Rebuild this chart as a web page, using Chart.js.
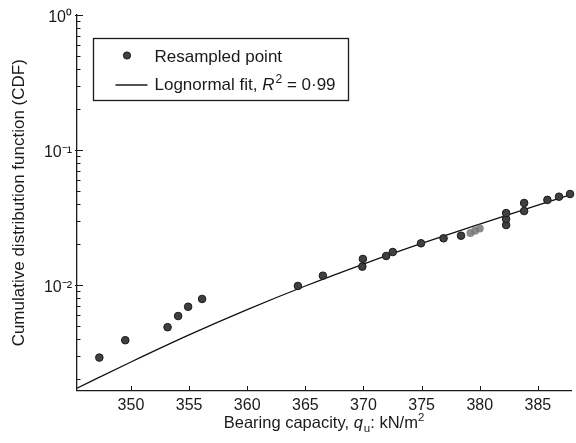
<!DOCTYPE html>
<html><head><meta charset="utf-8">
<script src="https://cdn.jsdelivr.net/npm/chart.js@4/dist/chart.umd.min.js"></script>
<style>html,body{margin:0;padding:0;background:#fff;}canvas{display:block;}</style>
</head><body>
<canvas id="c" width="576" height="443"></canvas>
<script>
// ---- data ----
const pointX = [347.28, 349.51, 353.15, 354.06, 354.92, 356.12, 364.36, 366.51, 369.90, 369.95,
                371.95, 372.52, 374.95, 376.89, 378.39, 382.27, 382.27, 382.27, 383.82, 383.82,
                385.82, 386.82, 387.77];
const pointY = [0.00290, 0.00390, 0.00487, 0.00589, 0.00690, 0.00788, 0.00984, 0.01172, 0.01368, 0.01560,
                0.01640, 0.01755, 0.02037, 0.02218, 0.02318, 0.0278, 0.0308, 0.0341, 0.0353, 0.0405,
                0.0427, 0.0451, 0.0472];
const markX = [379.2, 379.6, 380.0];
const markY = [0.0243, 0.0252, 0.0262];
const fitX = [345.36, 350, 355, 360, 365, 370, 375, 380, 385, 387.85];
const fitY = [0.00172, 0.00269, 0.00427, 0.00657, 0.00983, 0.01429, 0.0203, 0.0283, 0.0391, 0.0467];
const xTicks = [350, 355, 360, 365, 370, 375, 380, 385];
const yTicks = [0.002, 0.003, 0.004, 0.005, 0.006, 0.007, 0.008, 0.009,
                0.01, 0.02, 0.03, 0.04, 0.05, 0.06, 0.07, 0.08, 0.09,
                0.1, 0.2, 0.3, 0.4, 0.5, 0.6, 0.7, 0.8, 0.9, 1];
const yMajorValues = [0.01, 0.1, 1];
const yMajorLabels = ['10\u207B\u00B2', '10\u207B\u00B9', '10\u2070'];
const X_MIN = 345.36, X_MAX = 387.85, Y_MIN = 0.001654, Y_MAX = 1;
const legendLabels = ['Resampled point', 'Lognormal fit, '];
const xTitleParts = ['Bearing capacity, ', 'q', 'u', ': kN/m', '2'];
const yTitle = 'Cumulative distribution function (CDF)';

const FONT = '"Liberation Sans", Arial, Helvetica, sans-serif';
const INK = '#1a1a1a';

const isMajor = v => yMajorValues.some(m => Math.abs(m - v) / m < 1e-6);

const tickMarks = {
  id: 'tickMarks',
  afterDatasetsDraw(chart) {
    const {ctx, chartArea: a, scales: {x, y}} = chart;
    ctx.save();
    ctx.strokeStyle = INK; ctx.lineWidth = 1;
    y.ticks.forEach(t => {
      const py = Math.round(y.getPixelForValue(t.value)) + 0.5;
      ctx.beginPath(); ctx.moveTo(a.left - (isMajor(t.value) ? 2 : 0), py);
      ctx.lineTo(a.left + (isMajor(t.value) ? 6 : 3.5), py); ctx.stroke();
    });
    x.ticks.forEach(t => {
      const px = Math.round(x.getPixelForValue(t.value)) + 0.5;
      ctx.beginPath(); ctx.moveTo(px, a.bottom); ctx.lineTo(px, a.bottom - 4.5); ctx.stroke();
    });
    ctx.restore();
  }
};

const boxLegend = {
  id: 'boxLegend',
  afterDraw(chart) {
    const {ctx, chartArea: a} = chart;
    const x0 = a.left + 16.5, y0 = a.top + 23.5, w = 255, h = 62;
    ctx.save();
    ctx.fillStyle = '#fff';
    ctx.fillRect(x0, y0, w, h);
    ctx.strokeStyle = INK; ctx.lineWidth = 1.3;
    ctx.strokeRect(x0, y0, w, h);
    // marker
    ctx.beginPath(); ctx.arc(x0 + 33.5, y0 + 17, 3.6, 0, Math.PI * 2);
    ctx.fillStyle = '#404040'; ctx.fill(); ctx.lineWidth = 1; ctx.strokeStyle = '#1a1a1a'; ctx.stroke();
    // line sample
    ctx.beginPath(); ctx.moveTo(x0 + 22, y0 + 46.5); ctx.lineTo(x0 + 54, y0 + 46.5);
    ctx.lineWidth = 1.3; ctx.strokeStyle = INK; ctx.stroke();
    ctx.fillStyle = INK; ctx.textBaseline = 'alphabetic'; ctx.textAlign = 'left';
    ctx.font = '17px ' + FONT;
    ctx.fillText(legendLabels[0], x0 + 61, y0 + 23);
    let tx = x0 + 61; const by = y0 + 51.5;
    ctx.fillText(legendLabels[1], tx, by); tx += ctx.measureText(legendLabels[1]).width;
    ctx.font = 'italic 17px ' + FONT;
    ctx.fillText('R', tx, by); tx += ctx.measureText('R').width + 1;
    ctx.font = '12px ' + FONT;
    ctx.fillText('2', tx, by - 7); tx += ctx.measureText('2').width;
    ctx.font = '17px ' + FONT;
    ctx.fillText(' = 0\u00B799', tx, by);
    ctx.restore();
  }
};

const xTitle = {
  id: 'xTitle',
  afterDraw(chart) {
    const {ctx, chartArea: a} = chart;
    const by = 427.5;
    const fN = '16.5px ' + FONT, fI = 'italic 16.5px ' + FONT, fS = '11.5px ' + FONT;
    const specs = [[xTitleParts[0], fN, 0], [xTitleParts[1], fI, 0], [xTitleParts[2], fS, 4],
                   [xTitleParts[3], fN, 0], [xTitleParts[4], fS, -7]];
    ctx.save();
    let total = 0;
    specs.forEach(s => { ctx.font = s[1]; total += ctx.measureText(s[0]).width; });
    total += 1;
    let tx = (a.left + a.right) / 2 - total / 2;
    ctx.fillStyle = INK; ctx.textBaseline = 'alphabetic'; ctx.textAlign = 'left';
    specs.forEach((s, i) => {
      ctx.font = s[1]; ctx.fillText(s[0], tx, by + s[2]);
      tx += ctx.measureText(s[0]).width + (i === 1 ? 1 : 0);
    });
    ctx.restore();
  }
};

new Chart(document.getElementById('c'), {
  type: 'scatter',
  data: {
    datasets: [
      {
        label: legendLabels[0],
        data: pointX.map((v, i) => ({x: v, y: pointY[i]})),
        pointRadius: 3.8, pointBackgroundColor: '#404040', pointBorderColor: '#1a1a1a',
        pointBorderWidth: 1, showLine: false, clip: false
      },
      {
        label: 'mark',
        data: markX.map((v, i) => ({x: v, y: markY[i]})),
        pointRadius: 4, pointBackgroundColor: 'rgba(120,120,120,0.85)', pointBorderWidth: 0,
        showLine: false
      },
      {
        label: legendLabels[1] + 'R\u00B2 = 0\u00B799',
        data: fitX.map((v, i) => ({x: v, y: fitY[i]})),
        showLine: true, pointRadius: 0, borderColor: '#111', borderWidth: 1.3,
        cubicInterpolationMode: 'monotone', fill: false
      }
    ]
  },
  options: {
    responsive: false, animation: false, devicePixelRatio: 1,
    layout: {padding: {left: 0, right: 4, top: 15, bottom: 0}},
    plugins: {legend: {display: false}, tooltip: {enabled: false}},
    scales: {
      x: {
        type: 'linear', min: X_MIN, max: X_MAX,
        afterBuildTicks: s => { s.ticks = xTicks.map(v => ({value: v})); },
        afterFit: s => { s.height = 52.5; },
        ticks: {font: {family: FONT, size: 16}, color: INK, padding: 5, autoSkip: false, maxRotation: 0,
                callback: v => String(v)},
        grid: {display: true, drawOnChartArea: false, drawTicks: false},
        border: {display: true, color: INK, width: 1.3}
      },
      y: {
        type: 'logarithmic', min: Y_MIN, max: Y_MAX,
        afterBuildTicks: s => { s.ticks = yTicks.map(v => ({value: v})); },
        afterFit: s => { s.width = 77; },
        ticks: {font: {family: FONT, size: 16}, color: INK, padding: 5, autoSkip: false, labelOffset: 3,
                callback: v => { const i = yMajorValues.findIndex(m => Math.abs(m - v) / m < 1e-6); return i >= 0 ? yMajorLabels[i] : ''; }},
        grid: {display: true, drawOnChartArea: false, drawTicks: false},
        border: {display: true, color: INK, width: 1.3},
        title: {display: true, text: yTitle, color: INK, font: {family: FONT, size: 17}, padding: {top: 9, bottom: 0}}
      }
    }
  },
  plugins: [tickMarks, boxLegend, xTitle]
});
</script>
</body></html>
